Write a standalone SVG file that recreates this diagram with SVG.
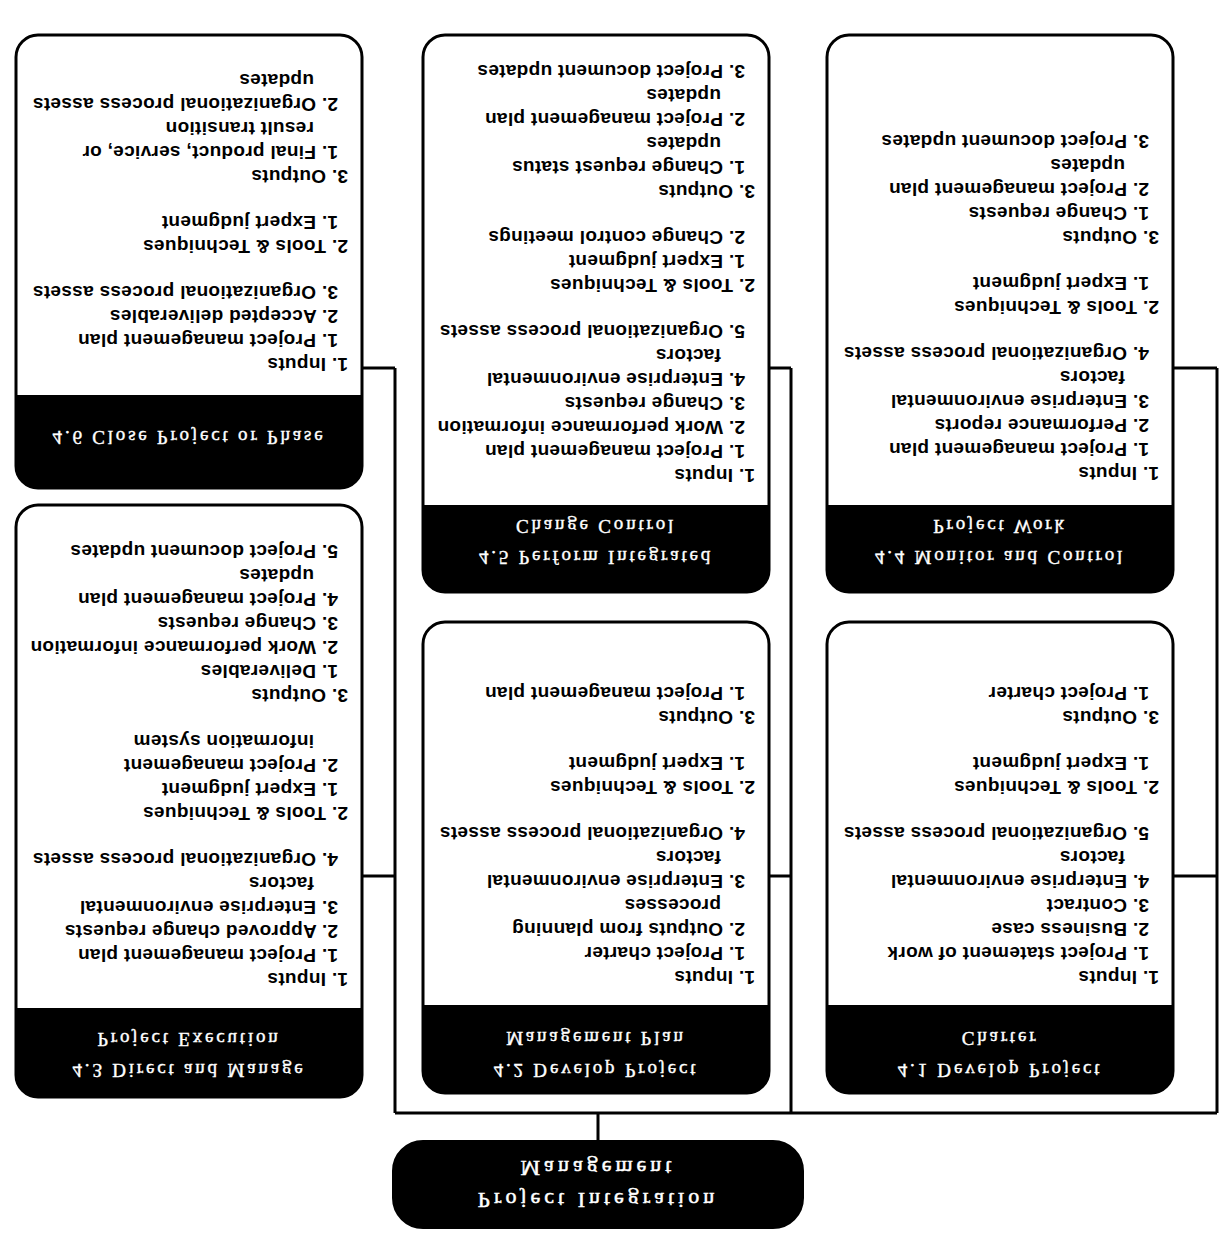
<svg xmlns="http://www.w3.org/2000/svg" width="1226" height="1235" viewBox="0 0 1226 1235">
  <style>
    .box { fill: #fff; stroke: #000; stroke-width: 3; }
    .band { fill: #000; }
    .root { fill: #000; stroke: #000; stroke-width: 2; }
    .ttl { font-family: "Liberation Serif", "Times New Roman", serif; font-size: 19px; fill: #fff; stroke: #fff; stroke-width: 0.4px; letter-spacing: 2.8px; text-anchor: middle; }
    .rttl { font-family: "Liberation Serif", "Times New Roman", serif; font-size: 22px; fill: #fff; stroke: #fff; stroke-width: 0.5px; letter-spacing: 4px; text-anchor: middle; }
    .body { font-family: "Liberation Sans", Arial, sans-serif; font-size: 19px; font-weight: bold; fill: #000; letter-spacing: 0.3px; }
    .wire { stroke: #000; stroke-width: 3; fill: none; }
  </style>
  <rect width="1226" height="1235" fill="#fff"/>
  <!-- whole chart is printed turned over; titles are flipped on the vertical axis only -->
  <g transform="rotate(180 613 617.5)">
    <g id="connectors">
      <path class="wire" d="M628,94 V122 M9,122 H831 M9,122 V867 M435,122 V867 M831,122 V867"/>
      <path class="wire" d="M9,359 H53 M9,867 H53 M435,359 H457 M435,867 H457 M831,359 H864 M831,867 H864"/>
    </g>

    <g id="root">
      <rect class="root" x="423" y="7" width="410" height="87" rx="30"/>
      <g transform="matrix(-1 0 0 1 1256 0)">
        <text class="rttl" x="628" y="42">Project Integration</text>
        <text class="rttl" x="628" y="74">Management</text>
      </g>
    </g>

    <g id="p41">
      <rect class="box" x="53" y="142" width="346" height="471" rx="22"/>
      <path class="band" d="M53,230 V164 A22,22 0 0 1 75,142 H377 A22,22 0 0 1 399,164 V230 Z"/>
      <g transform="matrix(-1 0 0 1 452 0)">
        <text class="ttl" x="226" y="171">4.1 Develop Project</text>
        <text class="ttl" x="226" y="203">Charter</text>
      </g>
      <text class="body">
        <tspan x="67" y="264">1. Inputs</tspan>
        <tspan x="77" y="288">1. Project statement of work</tspan>
        <tspan x="77" y="312">2. Business case</tspan>
        <tspan x="77" y="336">3. Contract</tspan>
        <tspan x="77" y="360">4. Enterprise environmental</tspan>
        <tspan x="101" y="384">factors</tspan>
        <tspan x="77" y="408">5. Organizational process assets</tspan>
        <tspan x="67" y="454">2. Tools &amp; Techniques</tspan>
        <tspan x="77" y="478">1. Expert judgment</tspan>
        <tspan x="67" y="524">3. Outputs</tspan>
        <tspan x="77" y="548">1. Project charter</tspan>
      </text>
    </g>

    <g id="p42">
      <rect class="box" x="457" y="142" width="346" height="471" rx="22"/>
      <path class="band" d="M457,230 V164 A22,22 0 0 1 479,142 H781 A22,22 0 0 1 803,164 V230 Z"/>
      <g transform="matrix(-1 0 0 1 1260 0)">
        <text class="ttl" x="630" y="171">4.2 Develop Project</text>
        <text class="ttl" x="630" y="203">Management Plan</text>
      </g>
      <text class="body">
        <tspan x="471" y="264">1. Inputs</tspan>
        <tspan x="481" y="288">1. Project charter</tspan>
        <tspan x="481" y="312">2. Outputs from planning</tspan>
        <tspan x="505" y="336">processes</tspan>
        <tspan x="481" y="360">3. Enterprise environmental</tspan>
        <tspan x="505" y="384">factors</tspan>
        <tspan x="481" y="408">4. Organizational process assets</tspan>
        <tspan x="471" y="454">2. Tools &amp; Techniques</tspan>
        <tspan x="481" y="478">1. Expert judgment</tspan>
        <tspan x="471" y="524">3. Outputs</tspan>
        <tspan x="481" y="548">1. Project management plan</tspan>
      </text>
    </g>

    <g id="p43">
      <rect class="box" x="864" y="138" width="346" height="592" rx="22"/>
      <path class="band" d="M864,227 V160 A22,22 0 0 1 886,138 H1188 A22,22 0 0 1 1210,160 V227 Z"/>
      <g transform="matrix(-1 0 0 1 2074 0)">
        <text class="ttl" x="1037" y="171">4.3 Direct and Manage</text>
        <text class="ttl" x="1037" y="202">Project Execution</text>
      </g>
      <text class="body">
        <tspan x="878" y="262">1. Inputs</tspan>
        <tspan x="888" y="286">1. Project management plan</tspan>
        <tspan x="888" y="310">2. Approved change requests</tspan>
        <tspan x="888" y="334">3. Enterprise environmental</tspan>
        <tspan x="912" y="358">factors</tspan>
        <tspan x="888" y="382">4. Organizational process assets</tspan>
        <tspan x="878" y="428">2. Tools &amp; Techniques</tspan>
        <tspan x="888" y="452">1. Expert judgment</tspan>
        <tspan x="888" y="476">2. Project management</tspan>
        <tspan x="912" y="500">information system</tspan>
        <tspan x="878" y="546">3. Outputs</tspan>
        <tspan x="888" y="570">1. Deliverables</tspan>
        <tspan x="888" y="594">2. Work performance information</tspan>
        <tspan x="888" y="618">3. Change requests</tspan>
        <tspan x="888" y="642">4. Project management plan</tspan>
        <tspan x="912" y="666">updates</tspan>
        <tspan x="888" y="690">5. Project document updates</tspan>
      </text>
    </g>

    <g id="p44">
      <rect class="box" x="53" y="643" width="346" height="557" rx="22"/>
      <path class="band" d="M53,730 V665 A22,22 0 0 1 75,643 H377 A22,22 0 0 1 399,665 V730 Z"/>
      <g transform="matrix(-1 0 0 1 452 0)">
        <text class="ttl" x="226" y="684">4.4 Monitor and Control</text>
        <text class="ttl" x="226" y="715">Project Work</text>
      </g>
      <text class="body">
        <tspan x="67" y="768">1. Inputs</tspan>
        <tspan x="77" y="792">1. Project management plan</tspan>
        <tspan x="77" y="816">2. Performance reports</tspan>
        <tspan x="77" y="840">3. Enterprise environmental</tspan>
        <tspan x="101" y="864">factors</tspan>
        <tspan x="77" y="888">4. Organizational process assets</tspan>
        <tspan x="67" y="934">2. Tools &amp; Techniques</tspan>
        <tspan x="77" y="958">1. Expert judgment</tspan>
        <tspan x="67" y="1004">3. Outputs</tspan>
        <tspan x="77" y="1028">1. Change requests</tspan>
        <tspan x="77" y="1052">2. Project management plan</tspan>
        <tspan x="101" y="1076">updates</tspan>
        <tspan x="77" y="1100">3. Project document updates</tspan>
      </text>
    </g>

    <g id="p45">
      <rect class="box" x="457" y="643" width="346" height="557" rx="22"/>
      <path class="band" d="M457,730 V665 A22,22 0 0 1 479,643 H781 A22,22 0 0 1 803,665 V730 Z"/>
      <g transform="matrix(-1 0 0 1 1260 0)">
        <text class="ttl" x="630" y="684">4.5 Perform Integrated</text>
        <text class="ttl" x="630" y="715">Change Control</text>
      </g>
      <text class="body">
        <tspan x="471" y="766">1. Inputs</tspan>
        <tspan x="481" y="790">1. Project management plan</tspan>
        <tspan x="481" y="814">2. Work performance information</tspan>
        <tspan x="481" y="838">3. Change requests</tspan>
        <tspan x="481" y="862">4. Enterprise environmental</tspan>
        <tspan x="505" y="886">factors</tspan>
        <tspan x="481" y="910">5. Organizational process assets</tspan>
        <tspan x="471" y="956">2. Tools &amp; Techniques</tspan>
        <tspan x="481" y="980">1. Expert judgment</tspan>
        <tspan x="481" y="1004">2. Change control meetings</tspan>
        <tspan x="471" y="1050">3. Outputs</tspan>
        <tspan x="481" y="1074">1. Change request status</tspan>
        <tspan x="505" y="1098">updates</tspan>
        <tspan x="481" y="1122">2. Project management plan</tspan>
        <tspan x="505" y="1146">updates</tspan>
        <tspan x="481" y="1170">3. Project document updates</tspan>
      </text>
    </g>

    <g id="p46">
      <rect class="box" x="864" y="747" width="346" height="453" rx="22"/>
      <path class="band" d="M864,840 V769 A22,22 0 0 1 886,747 H1188 A22,22 0 0 1 1210,769 V840 Z"/>
      <g transform="matrix(-1 0 0 1 2074 0)">
        <text class="ttl" x="1037" y="804">4.6 Close Project or Phase</text>
      </g>
      <text class="body">
        <tspan x="878" y="877">1. Inputs</tspan>
        <tspan x="888" y="901">1. Project management plan</tspan>
        <tspan x="888" y="925">2. Accepted deliverables</tspan>
        <tspan x="888" y="949">3. Organizational process assets</tspan>
        <tspan x="878" y="995">2. Tools &amp; Techniques</tspan>
        <tspan x="888" y="1019">1. Expert judgment</tspan>
        <tspan x="878" y="1065">3. Outputs</tspan>
        <tspan x="888" y="1089">1. Final product, service, or</tspan>
        <tspan x="912" y="1113">result transition</tspan>
        <tspan x="888" y="1137">2. Organizational process assets</tspan>
        <tspan x="912" y="1161">updates</tspan>
      </text>
    </g>
  </g>
</svg>
